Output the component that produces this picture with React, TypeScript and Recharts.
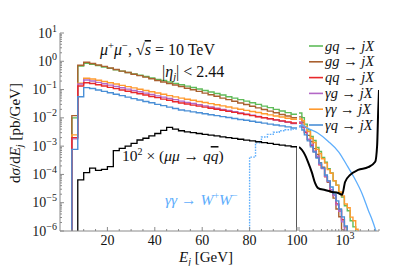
import React from "react";
import { ComposedChart, Line, XAxis, YAxis } from "recharts";

const FONT = "'Liberation Serif', 'DejaVu Serif', serif";
const FRAME = "#8a8a8a";
const FLOOR = 1e-9;

const COLORS = {
  gq: "#5fbb5a",
  gg: "#a9602f",
  qq: "#e8282b",
  ag: "#b367c6",
  aa: "#ff9a2e",
  aq: "#4a8fd6",
  ww: "#5eaefc",
  qqbar: "#000000",
};

// left panel: 2.5 GeV bins, lower edges
const binLo = [5, 7.5, 10, 12.5, 15, 17.5, 20, 22.5, 25, 27.5, 30, 32.5, 35, 37.5, 40, 42.5, 45, 47.5, 50, 52.5, 55, 57.5, 60, 62.5, 65, 67.5, 70, 72.5, 75, 77.5, 80, 82.5, 85, 87.5, 90, 92.5, 95, 97.5];

const gqLeft = [0.010, 0.68, 0.85, 0.78, 0.70, 0.62, 0.56, 0.50, 0.45, 0.40, 0.36, 0.32, 0.29, 0.26, 0.23, 0.21, 0.185, 0.165, 0.148, 0.132, 0.118, 0.105, 0.093, 0.082, 0.073, 0.064, 0.056, 0.050, 0.044, 0.039, 0.034, 0.030, 0.026, 0.023, 0.020, 0.0175, 0.0153, 0.0134];
const ggLeft = [0.012, 0.72, 0.93, 0.84, 0.74, 0.66, 0.58, 0.51, 0.45, 0.40, 0.35, 0.31, 0.275, 0.24, 0.21, 0.186, 0.164, 0.145, 0.128, 0.112, 0.098, 0.086, 0.075, 0.066, 0.058, 0.050, 0.044, 0.0385, 0.0337, 0.0295, 0.0258, 0.0226, 0.0198, 0.0173, 0.0151, 0.0132, 0.0116, 0.0101];
const qqLeft = [0.0020, 0.134, 0.175, 0.164, 0.148, 0.133, 0.120, 0.108, 0.097, 0.087, 0.079, 0.071, 0.064, 0.057, 0.052, 0.046, 0.042, 0.037, 0.0336, 0.0309, 0.0283, 0.0260, 0.0239, 0.0219, 0.0201, 0.0185, 0.0170, 0.0156, 0.0143, 0.0131, 0.0120, 0.0110, 0.0101, 0.0093, 0.0085, 0.0078, 0.0072, 0.0066];
const agLeft = [0.0018, 0.157, 0.218, 0.20, 0.179, 0.161, 0.144, 0.129, 0.116, 0.104, 0.093, 0.084, 0.075, 0.067, 0.060, 0.054, 0.049, 0.044, 0.039, 0.0354, 0.0322, 0.0292, 0.0266, 0.0241, 0.0219, 0.0199, 0.0181, 0.0164, 0.0149, 0.0136, 0.0123, 0.0112, 0.0102, 0.0092, 0.0084, 0.0076, 0.0069, 0.0063];
const aaLeft = [0.0025, 0.167, 0.25, 0.237, 0.214, 0.193, 0.174, 0.157, 0.141, 0.127, 0.115, 0.103, 0.093, 0.084, 0.076, 0.068, 0.061, 0.055, 0.050, 0.0457, 0.0417, 0.0381, 0.0348, 0.0318, 0.0290, 0.0265, 0.0242, 0.0221, 0.0202, 0.0184, 0.0168, 0.0154, 0.0140, 0.0128, 0.0117, 0.0107, 0.0097, 0.0089];
const aqLeft = [0.00077, 0.056, 0.117, 0.109, 0.097, 0.086, 0.077, 0.068, 0.061, 0.054, 0.048, 0.043, 0.038, 0.034, 0.030, 0.027, 0.024, 0.0213, 0.019, 0.0176, 0.0163, 0.0151, 0.0140, 0.0129, 0.0120, 0.0111, 0.0103, 0.0095, 0.0088, 0.0082, 0.0076, 0.0070, 0.0065, 0.0060, 0.0056, 0.0052, 0.0048, 0.0044];

// 10^2 x (mu mu -> q qbar), starts at 7.5 GeV
const qqbarLeft = [6.4e-5, 1.15e-4, 1.66e-4, 1.4e-4, 1.5e-4, 1.9e-4, 6.9e-4, 8.4e-4, 1.0e-3, 1.26e-3, 1.65e-3, 1.9e-3, 2.3e-3, 2.8e-3, 3.6e-3, 4.6e-3, 4.0e-3, 3.5e-3, 3.2e-3, 3.0e-3, 2.8e-3, 2.62e-3, 2.45e-3, 2.29e-3, 2.14e-3, 2.0e-3, 1.87e-3, 1.75e-3, 1.63e-3, 1.53e-3, 1.43e-3, 1.33e-3, 1.25e-3, 1.16e-3, 1.09e-3, 1.02e-3, 0.95e-3];

const wwLo = [80, 82.5, 85, 87.5, 90, 92.5, 95, 97.5];
const wwLeft = [4.1e-4, 1.3e-3, 2.1e-3, 2.6e-3, 3.1e-3, 3.5e-3, 3.8e-3, 4.0e-3];

// right panel (log E), bin edges
const rightE = [100, 115, 130, 150, 175, 200, 230, 265, 300, 350, 400, 460, 530, 610, 700, 800, 920, 1060, 1220, 1400, 1600, 1800, 2000];
const gqRight = [0.0149, 0.0102, 0.0060, 0.0038, 0.0022, 0.00158, 0.00090, 0.00065, 0.00040, 0.00027, 0.000160, 0.000112, 6.0e-5, 4.2e-5, 2.2e-5, 1.6e-5, 7.8e-6, 5.2e-6, 2.3e-6, 1.4e-6, 6.0e-7];
const ggRight = [0.0108, 0.0070, 0.0046, 0.0024, 0.00145, 0.00082, 0.00051, 0.00026, 0.00018, 8.4e-5, 5.3e-5, 2.4e-5, 1.45e-5, 6.0e-6, 3.2e-6, 1.1e-6, 4.0e-7];
const qqRight = [0.0066, 0.0047, 0.0030, 0.0017, 0.00105, 0.00065, 0.00040, 0.00022, 0.000165, 8.4e-5, 5.8e-5, 2.9e-5, 1.85e-5, 9.0e-6, 5.6e-6, 2.5e-6, 1.4e-6, 5.0e-7];
const agRight = [0.0072, 0.0050, 0.0033, 0.00175, 0.00115, 0.00066, 0.00044, 0.00023, 0.000160, 8.6e-5, 5.6e-5, 2.9e-5, 1.8e-5, 8.5e-6, 5.0e-6, 2.1e-6, 8.5e-7];
const aaRight = [0.0091, 0.0080, 0.0050, 0.0033, 0.0019, 0.00135, 0.00077, 0.00055, 0.00036, 0.00025, 0.000148, 0.000110, 6.0e-5, 4.2e-5, 2.4e-5, 1.75e-5, 9.0e-6, 6.6e-6, 3.1e-6, 2.3e-6, 1.15e-6, 7.0e-7];
const aqRight = [0.0048, 0.0037, 0.0025, 0.00153, 0.00094, 0.00062, 0.00038, 0.000255, 0.00017, 9.6e-5, 5.9e-5, 3.6e-5, 2.05e-5, 1.16e-5, 6.0e-6, 3.15e-6, 1.5e-6, 6.7e-7];

const qqbarRightE = [100, 116, 134, 155, 189, 219, 254, 357, 503, 676, 822, 952, 1220, 1800, 2940, 4150, 4570, 4800, 5000];
const qqbarRight = [9.4e-4, 7.3e-4, 4.9e-4, 2.8e-4, 1.13e-4, 5.0e-5, 3.3e-5, 2.8e-5, 2.4e-5, 2.2e-5, 1.9e-5, 5.4e-5, 9.6e-5, 1.44e-4, 1.8e-4, 2.8e-4, 1.1e-3, 0.0162, 0.096];

const wwRightE = [100, 116, 148, 250, 414, 700, 1100, 1500, 2200, 3000, 3570, 4150, 4600];
const wwRight = [5.0e-3, 5.6e-3, 4.4e-3, 2.9e-3, 1.5e-3, 6.2e-4, 1.8e-4, 7.5e-5, 2.05e-5, 5.1e-6, 2.5e-6, 1.2e-6, 6.7e-7];

const xTicksLeft = [5, 10, 15, 20, 25, 30, 35, 40, 45, 50, 55, 60, 65, 70, 75, 80, 85, 90, 95, 100];
const xMajorLeft = [20, 40, 60, 80, 100];
const xTicksRight = [100, 200, 300, 400, 500, 600, 700, 800, 900, 1000, 2000, 3000, 4000, 5000];
const xMajorRight = [100, 1000];
const yTicks: number[] = [];
for (let k = -6; k <= 0; k++) for (let m = 1; m <= 9; m++) yTicks.push(m * Math.pow(10, k));
yTicks.push(10);

const legendRows = [
  { a: "gq", color: COLORS.gq },
  { a: "gg", color: COLORS.gg },
  { a: "qq", color: COLORS.qq },
  { a: "γg", color: COLORS.ag },
  { a: "γγ", color: COLORS.aa },
  { a: "γq", color: COLORS.aq },
];

type Pt = { e: number; v: number };

function steps(lo: number[], vals: number[], end: number, dropEnd = false): Pt[] {
  const pts: Pt[] = [{ e: lo[0], v: FLOOR }];
  vals.forEach((v, i) => pts.push({ e: lo[i], v }));
  pts.push({ e: end, v: vals[vals.length - 1] });
  if (dropEnd) pts.push({ e: end, v: FLOOR });
  return pts;
}

function stepsRight(vals: number[]): Pt[] {
  const pts: Pt[] = vals.map((v, i) => ({ e: rightE[i], v }));
  pts.push({ e: rightE[vals.length], v: vals[vals.length - 1] });
  return pts;
}

function curve(es: number[], vals: number[]): Pt[] {
  return vals.map((v, i) => ({ e: es[i], v }));
}

const isDecade = (v: number) => {
  const lg = Math.log10(v);
  return Math.abs(lg - Math.round(lg)) < 1e-6;
};

// ticks point inward, labels are drawn in the overlay
const BottomTick = (majors: number[]) => (p: any) => {
  const { x, y, payload } = p;
  const major = majors.includes(payload.value);
  return <line x1={x} x2={x} y1={y} y2={y - (major ? 4 : 2)} stroke={FRAME} />;
};

const TopTick = (majors: number[]) => (p: any) => {
  const { x, y, payload } = p;
  const major = majors.includes(payload.value);
  return <line x1={x} x2={x} y1={y} y2={y + (major ? 4 : 2)} stroke={FRAME} />;
};

const LeftTick = (withLabel: boolean) => (p: any) => {
  const { x, y, payload } = p;
  const major = isDecade(payload.value);
  const ex = Math.round(Math.log10(payload.value));
  return (
    <g>
      <line x1={x} x2={x + (major ? 4 : 2)} y1={y} y2={y} stroke={FRAME} />
      {withLabel && major && (
        <text x={x - 3} y={y + 4.5} textAnchor="end" fontSize={14} fontFamily={FONT} fill="#222">
          <tspan>10</tspan>
          <tspan dy={-6} fontSize={10}>{ex < 0 ? "−" + Math.abs(ex) : String(ex)}</tspan>
        </text>
      )}
    </g>
  );
};

const RightTick = (p: any) => {
  const { x, y, payload } = p;
  const major = isDecade(payload.value);
  return <line x1={x} x2={x - (major ? 4 : 2)} y1={y} y2={y} stroke={FRAME} />;
};

function Frame({ xDomain, xTicks, xMajors, log, yLabels }: any) {
  return [
    <XAxis key="xb" xAxisId="x" dataKey="e" type="number" scale={log ? "log" : "linear"} domain={xDomain} allowDataOverflow
      ticks={xTicks} interval={0} height={35} tickSize={0} tickMargin={0} stroke={FRAME} tickLine={false}
      tick={BottomTick(xMajors)} />,
    <XAxis key="xt" xAxisId="xt" orientation="top" dataKey="e" type="number" scale={log ? "log" : "linear"} domain={xDomain} allowDataOverflow
      ticks={xTicks} interval={0} height={0} tickSize={0} tickMargin={0} stroke={FRAME} tickLine={false}
      tick={TopTick(xMajors)} />,
    <YAxis key="yl" yAxisId="y" type="number" scale="log" domain={[1e-6, 10]} allowDataOverflow ticks={yTicks} interval={0}
      width={yLabels ? 60 : 0} tickSize={0} tickMargin={0} stroke={FRAME} tickLine={false} tick={LeftTick(yLabels)} />,
    <YAxis key="yr" yAxisId="yr" orientation="right" type="number" scale="log" domain={[1e-6, 10]} allowDataOverflow ticks={yTicks} interval={0}
      width={0} tickSize={0} tickMargin={0} stroke={FRAME} tickLine={false} tick={RightTick} />,
  ];
}

function series(data: Pt[], color: string, key: string, opts: any = {}) {
  return (
    <Line key={key} xAxisId="x" yAxisId="y" data={data} dataKey="v" type={opts.type || "stepAfter"} stroke={color}
      strokeWidth={opts.width || 1.4} strokeDasharray={opts.dash} dot={false} activeDot={false} isAnimationActive={false} />
  );
}

const txt = { fontFamily: FONT, fill: "#111" } as const;

export default function App() {
  return (
    <div style={{ position: "absolute", left: 0, top: 0, width: 399, height: 266, background: "#fff" }}>
      <div style={{ position: "absolute", left: 0, top: 0 }}>
        <ComposedChart width={299} height={266} margin={{ top: 33, right: 2, bottom: 0, left: 0 }}>
          {Frame({ xDomain: [0, 100], xTicks: xTicksLeft, xMajors: xMajorLeft, log: false, yLabels: true })}
          {series(steps(binLo, gqLeft, 100), COLORS.gq, "gq")}
          {series(steps(binLo, ggLeft, 100), COLORS.gg, "gg")}
          {series(steps(binLo, aaLeft, 100), COLORS.aa, "aa")}
          {series(steps(binLo, agLeft, 100), COLORS.ag, "ag")}
          {series(steps(binLo, qqLeft, 100), COLORS.qq, "qq")}
          {series(steps(binLo, aqLeft, 100), COLORS.aq, "aq")}
          {series(steps(wwLo, wwLeft, 100), COLORS.ww, "ww", { dash: "1.6 1.2" })}
          {series(steps(binLo.slice(1), qqbarLeft, 100, true), COLORS.qqbar, "qqbar", { width: 1.3 })}
        </ComposedChart>
      </div>
      <div style={{ position: "absolute", left: 297, top: 0 }}>
        <ComposedChart width={84} height={266} margin={{ top: 33, right: 2, bottom: 0, left: 2 }}>
          {Frame({ xDomain: [100, 5000], xTicks: xTicksRight, xMajors: xMajorRight, log: true, yLabels: false })}
          {series(stepsRight(ggRight), COLORS.gg, "gg")}
          {series(stepsRight(qqRight), COLORS.qq, "qq")}
          {series(stepsRight(agRight), COLORS.ag, "ag")}
          {series(stepsRight(aqRight), COLORS.aq, "aq")}
          {series(stepsRight(gqRight), COLORS.gq, "gq")}
          {series(stepsRight(aaRight), COLORS.aa, "aa")}
          {series(curve(wwRightE, wwRight), COLORS.ww, "ww", { type: "monotone", width: 1.3 })}
          {series(curve(qqbarRightE, qqbarRight), COLORS.qqbar, "qqbar", { type: "monotone", width: 2 })}
        </ComposedChart>
      </div>
      <svg width={399} height={266} style={{ position: "absolute", left: 0, top: 0, pointerEvents: "none" }}>
        {/* x tick labels */}
        {xMajorLeft.map((v) => (
          <text key={v} x={60 + v * 2.37} y={245} textAnchor="middle" fontSize={14} {...txt}>{v}</text>
        ))}
        <text x={345} y={245} textAnchor="middle" fontSize={14} {...txt}>
          <tspan>10</tspan><tspan dy={-6} fontSize={10}>3</tspan>
        </text>
        {/* axis labels */}
        <text x={206} y={262} textAnchor="middle" fontSize={15} {...txt}>
          <tspan fontStyle="italic">E</tspan><tspan dy={3} fontSize={10} fontStyle="italic">j</tspan>
          <tspan dy={-3}> [GeV]</tspan>
        </text>
        <text x={20} y={133} textAnchor="middle" fontSize={15} transform="rotate(-90 20 133)" {...txt}>
          <tspan>d</tspan><tspan fontStyle="italic">σ</tspan><tspan>/d</tspan><tspan fontStyle="italic">E</tspan>
          <tspan dy={3} fontSize={10} fontStyle="italic">j</tspan><tspan dy={-3}> [pb/GeV]</tspan>
        </text>
        {/* annotations */}
        <text x={100} y={55} fontSize={16} {...txt}>
          <tspan fontStyle="italic">μ</tspan><tspan dy={-6} fontSize={10.5}>+</tspan>
          <tspan dy={6} fontStyle="italic">μ</tspan><tspan dy={-6} fontSize={10.5}>−</tspan>
          <tspan dy={6}>, √</tspan><tspan fontStyle="italic" style={{ textDecoration: "overline" }}>s</tspan>
          <tspan> = 10 TeV</tspan>
        </text>
        <text x={162} y={77} fontSize={16} {...txt}>
          <tspan>|</tspan><tspan fontStyle="italic">η</tspan><tspan dy={3} fontSize={10.5} fontStyle="italic">j</tspan>
          <tspan dy={-3}>| &lt; 2.44</tspan>
        </text>
        <text x={122} y={161} fontSize={15.5} {...txt}>
          <tspan>10</tspan><tspan dy={-6} fontSize={10}>2</tspan>
          <tspan dy={6}> × (</tspan><tspan fontStyle="italic">μμ</tspan><tspan> → </tspan>
          <tspan fontStyle="italic">q</tspan><tspan fontStyle="italic" style={{ textDecoration: "overline" }}>q</tspan><tspan>)</tspan>
        </text>
        <text x={165} y={205} fontSize={15.5} fontFamily={FONT} fill={COLORS.ww}>
          <tspan fontStyle="italic">γγ</tspan><tspan> → </tspan><tspan fontStyle="italic">W</tspan>
          <tspan dy={-6} fontSize={10}>+</tspan><tspan dy={6} fontStyle="italic">W</tspan><tspan dy={-6} fontSize={10}>−</tspan>
        </text>
        {/* legend */}
        {legendRows.map((r, i) => {
          const y = 46 + i * 15.8;
          return (
            <g key={r.a}>
              <line x1={309} x2={323} y1={y} y2={y} stroke={r.color} strokeWidth={1.6} />
              <text x={325} y={y + 4.5} fontSize={14.5} {...txt}>
                <tspan fontStyle="italic">{r.a}</tspan><tspan> → </tspan><tspan fontStyle="italic">jX</tspan>
              </text>
            </g>
          );
        })}
      </svg>
    </div>
  );
}
